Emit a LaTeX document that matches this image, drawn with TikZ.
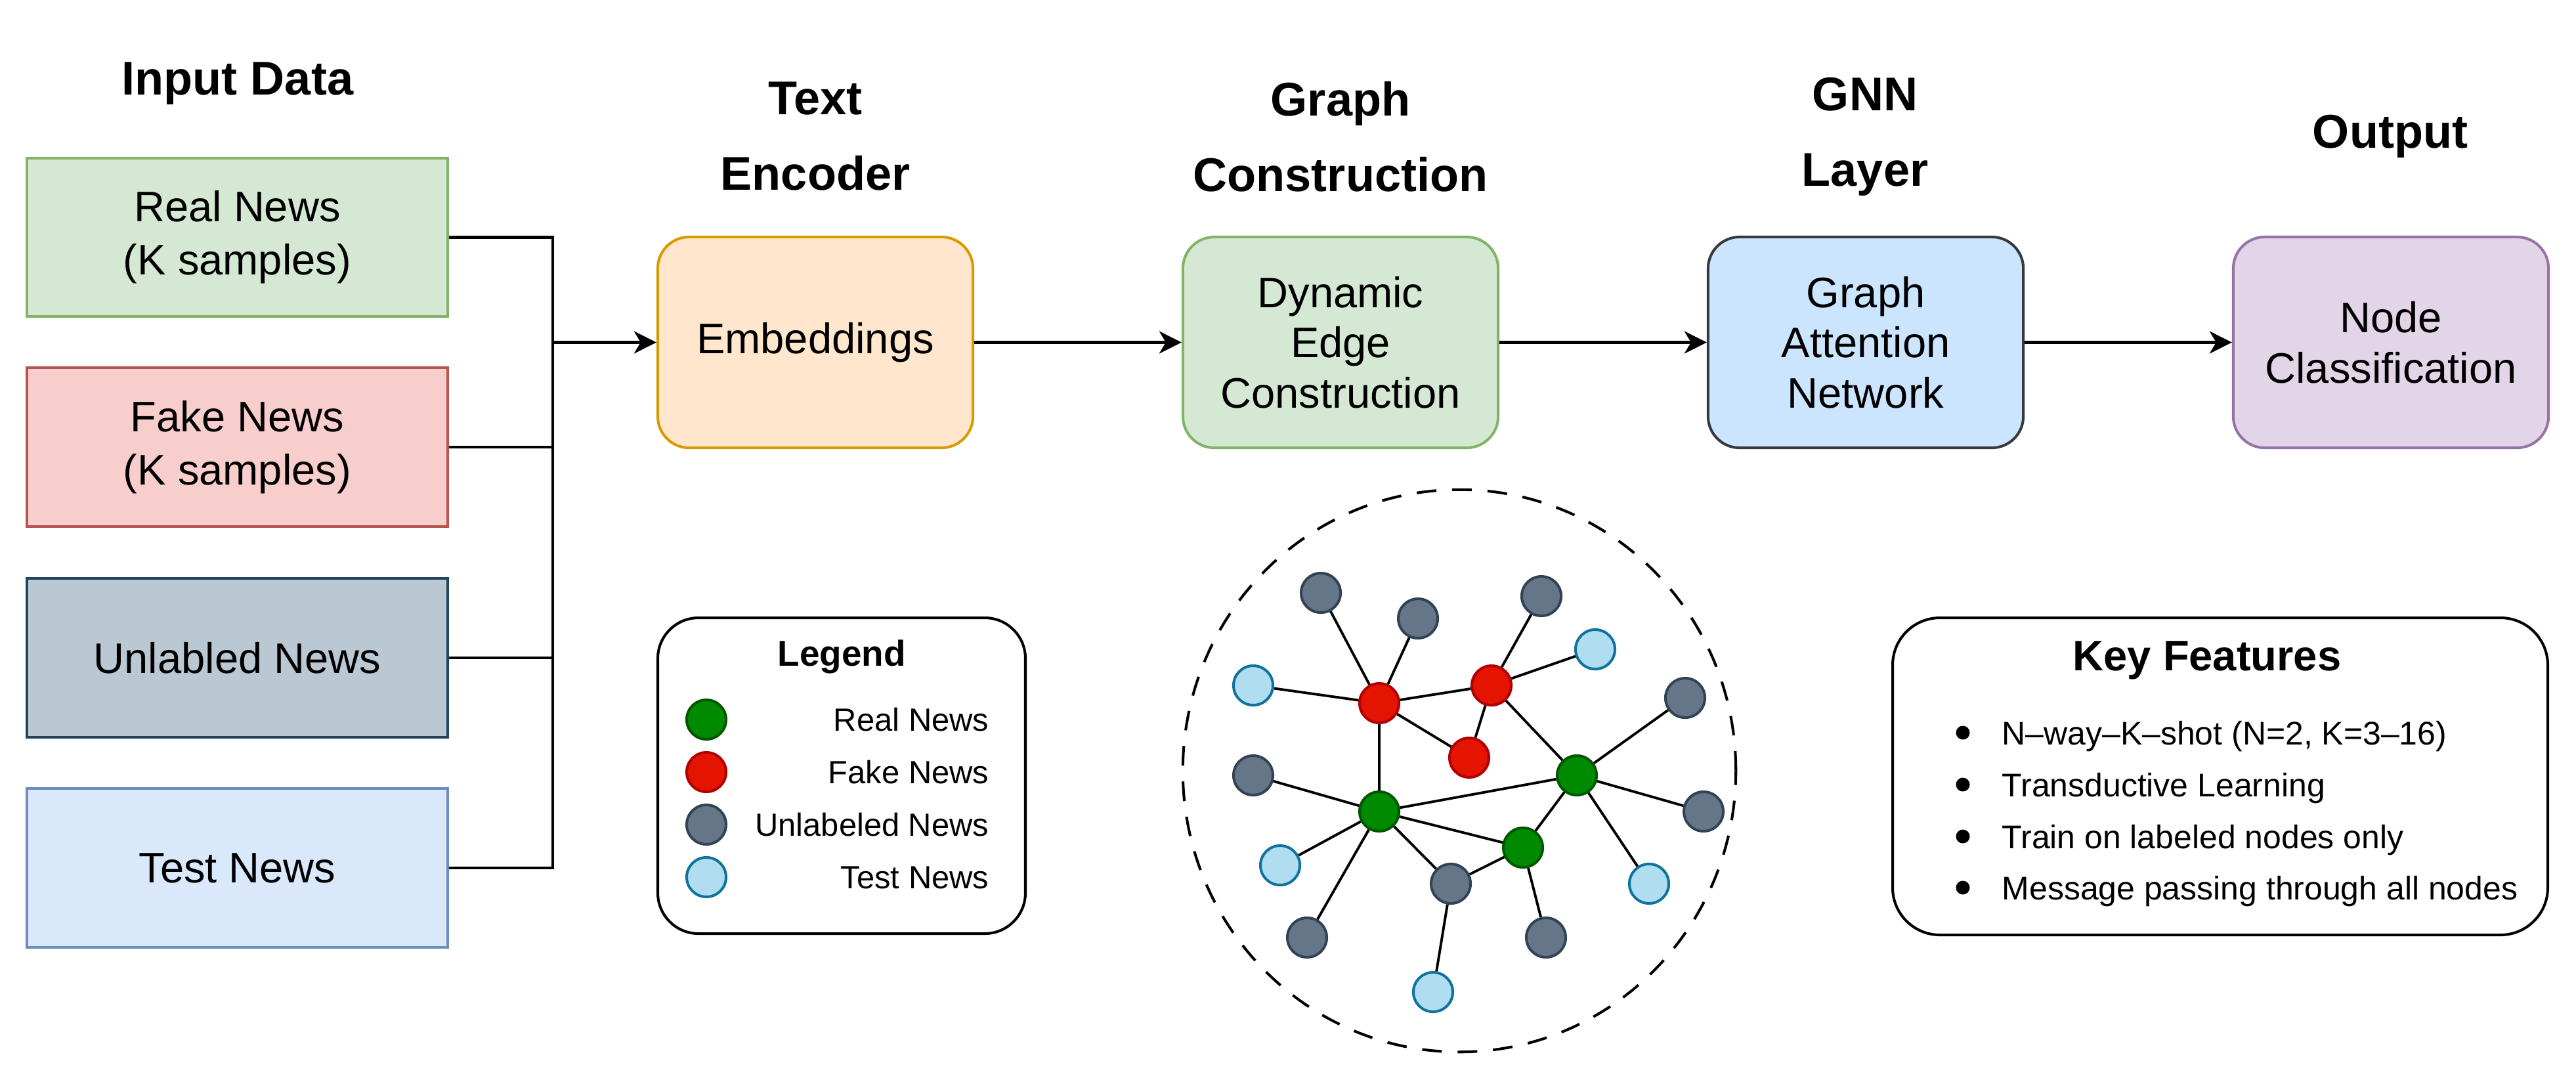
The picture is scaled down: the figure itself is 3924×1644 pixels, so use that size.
\documentclass[tikz,border=0pt]{standalone}
\usepackage{fontspec}
\setmainfont{Liberation Sans}
\usetikzlibrary{arrows.meta}
\definecolor{realF}{HTML}{D5E8D4}\definecolor{realD}{HTML}{82B366}
\definecolor{fakeF}{HTML}{F8CECC}\definecolor{fakeD}{HTML}{B85450}
\definecolor{unlF}{HTML}{BAC8D3}\definecolor{unlD}{HTML}{23445D}
\definecolor{testF}{HTML}{DAE8FC}\definecolor{testD}{HTML}{6C8EBF}
\definecolor{embF}{HTML}{FFE6CC}\definecolor{embD}{HTML}{D79B00}
\definecolor{gatF}{HTML}{CCE5FF}\definecolor{gatD}{HTML}{36393D}
\definecolor{outF}{HTML}{E1D5E7}\definecolor{outD}{HTML}{9673A6}
\definecolor{ngF}{HTML}{008A00}\definecolor{ngD}{HTML}{005700}
\definecolor{nrF}{HTML}{E51400}\definecolor{nrD}{HTML}{B20000}
\definecolor{nuF}{HTML}{647687}\definecolor{nuD}{HTML}{314354}
\definecolor{ntF}{HTML}{B1DDF0}\definecolor{ntD}{HTML}{10739E}
\tikzset{
  ln/.style={line width=1.15pt},
  inbox/.style={draw, ln, rectangle, minimum width=6.41cm, minimum height=2.41cm, align=center, inner sep=0pt, font=\fontsize{18.5pt}{23pt}\selectfont},
  stagebox/.style={draw, ln, rectangle, rounded corners=0.48cm, minimum width=4.8cm, minimum height=3.21cm, align=center, inner sep=0pt, font=\fontsize{18.5pt}{21.8pt}\selectfont},
  ttl/.style={align=center, font=\bfseries\fontsize{20.5pt}{32.7pt}\selectfont},
  arr/.style={ln, -{Stealth[length=0.34cm, width=0.34cm, inset=0.1cm]}},
  gn/.style={circle, ln, minimum size=0.6cm, inner sep=0pt},
  greenN/.style={gn, draw=ngD, fill=ngF},
  redN/.style={gn, draw=nrD, fill=nrF},
  grayN/.style={gn, draw=nuD, fill=nuF},
  blueN/.style={gn, draw=ntD, fill=ntF},
  edge/.style={line width=1.1pt},
  leglbl/.style={anchor=base east, font=\fontsize{13.9pt}{16pt}\selectfont, inner sep=0pt},
  kflbl/.style={anchor=base west, font=\fontsize{14.2pt}{17pt}\selectfont, inner sep=0pt},
}
\begin{document}
\begin{tikzpicture}[x=0.01cm, y=-0.01cm]
\useasboundingbox (0,0) rectangle (3924,1644);
% titles
\node[ttl] (tIn) at (362,127) {Input Data};
\node[ttl] (tEnc) at (1242,208) {Text\\Encoder};
\node[ttl] (tGC) at (2042,208) {Graph\\Construction};
\node[ttl] (tGNN) at (2841,208) {GNN\\Layer};
\node[ttl] (tOut) at (3641,208) {Output};
% input boxes
\node[inbox, fill=realF, draw=realD] (real) at (361.5,361.5) {Real News\\(K samples)};
\node[inbox, fill=fakeF, draw=fakeD] (fake) at (361.5,681) {Fake News\\(K samples)};
\node[inbox, fill=unlF, draw=unlD] (unl) at (361.5,1002) {Unlabled News};
\node[inbox, fill=testF, draw=testD] (test) at (361.5,1322) {Test News};
% stage boxes
\node[stagebox, fill=embF, draw=embD] (emb) at (1242,521.5) {Embeddings};
\node[stagebox, fill=realF, draw=realD] (dyn) at (2042,521.5) {Dynamic\\Edge\\Construction};
\node[stagebox, fill=gatF, draw=gatD] (gat) at (2842,521.5) {Graph\\Attention\\Network};
\node[stagebox, fill=outF, draw=outD] (out) at (3642,521.5) {Node\\Classification};
% bus
\coordinate (bt) at (842,361.5);
\coordinate (bb) at (842,1322);
\coordinate (bm) at (842,521.5);
\draw[ln] (real.east) -- (bt) -- (bb) -- (test.east);
\draw[ln] (fake.east) -- (fake.east -| bt);
\draw[ln] (unl.east) -- (unl.east -| bt);
\draw[arr] (bm) -- (emb.west);
\draw[arr] (emb) -- (dyn);
\draw[arr] (dyn) -- (gat);
\draw[arr] (gat) -- (out);
% legend
\draw[ln, rounded corners=0.62cm] (1002,941) rectangle (1562,1422);
\node[font=\bfseries\fontsize{15.6pt}{18pt}\selectfont] (legT) at (1282,1000) {Legend};
\node[greenN] (lg1) at (1076,1096) {};
\node[redN] (lg2) at (1076,1176) {};
\node[grayN] (lg3) at (1076,1256) {};
\node[blueN] (lg4) at (1076,1336) {};
\node[leglbl] (ll1) at (1507,1113) {Real News};
\node[leglbl] (ll2) at (1507,1193) {Fake News};
\node[leglbl] (ll3) at (1507,1273) {Unlabeled News};
\node[leglbl] (ll4) at (1507,1353) {Test News};
% key features
\draw[ln, rounded corners=0.72cm] (2883,941) rectangle (3881,1424);
\node[font=\bfseries\fontsize{18.5pt}{22pt}\selectfont] (kfT) at (3362,1006) {Key Features};
\foreach \yy/\tx [count=\i] in {1116/{N–way–K–shot (N=2, K=3–16)},1195/{Transductive Learning},1274/{Train on labeled nodes only},1352/{Message passing through all nodes}}{
  \fill (2990,\yy) circle[radius=0.105cm];
  \node[kflbl] (kf\i) at (3049,\yy+18) {\tx};
}
% graph
\draw[ln, dash pattern=on 0.3cm off 0.24cm] (2223,1174) ellipse[x radius=4.21cm, y radius=4.28cm];
\node[grayN] (g1) at (2012,903) {};
\node[grayN] (g2) at (2160,942) {};
\node[grayN] (g3) at (2348,908) {};
\node[grayN] (g4) at (2567,1063) {};
\node[grayN] (g5) at (1909,1181) {};
\node[grayN] (g6) at (2595,1236) {};
\node[grayN] (g7) at (2210,1346) {};
\node[grayN] (g8) at (1991,1428) {};
\node[grayN] (g9) at (2355,1428) {};
\node[blueN] (t1) at (1909,1044) {};
\node[blueN] (t2) at (2430,989) {};
\node[blueN] (t3) at (1950,1318) {};
\node[blueN] (t4) at (2512,1346) {};
\node[blueN] (t5) at (2183,1511) {};
\node[redN] (r1) at (2101,1071) {};
\node[redN] (r2) at (2272,1044) {};
\node[redN] (r3) at (2238,1154) {};
\node[greenN] (n1) at (2101,1236) {};
\node[greenN] (n2) at (2402,1181) {};
\node[greenN] (n3) at (2320,1291) {};
\foreach \a/\b in {g1/r1,g2/r1,t1/r1,r1/r2,r1/r3,r1/n1,g3/r2,t2/r2,r2/r3,r2/n2,g4/n2,n2/g6,n2/t4,n2/n1,n2/n3,g5/n1,n1/t3,n1/g8,n1/g7,n1/n3,n3/g7,n3/g9,g7/t5}
  \draw[edge] (\a) -- (\b);
\end{tikzpicture}
\end{document}
